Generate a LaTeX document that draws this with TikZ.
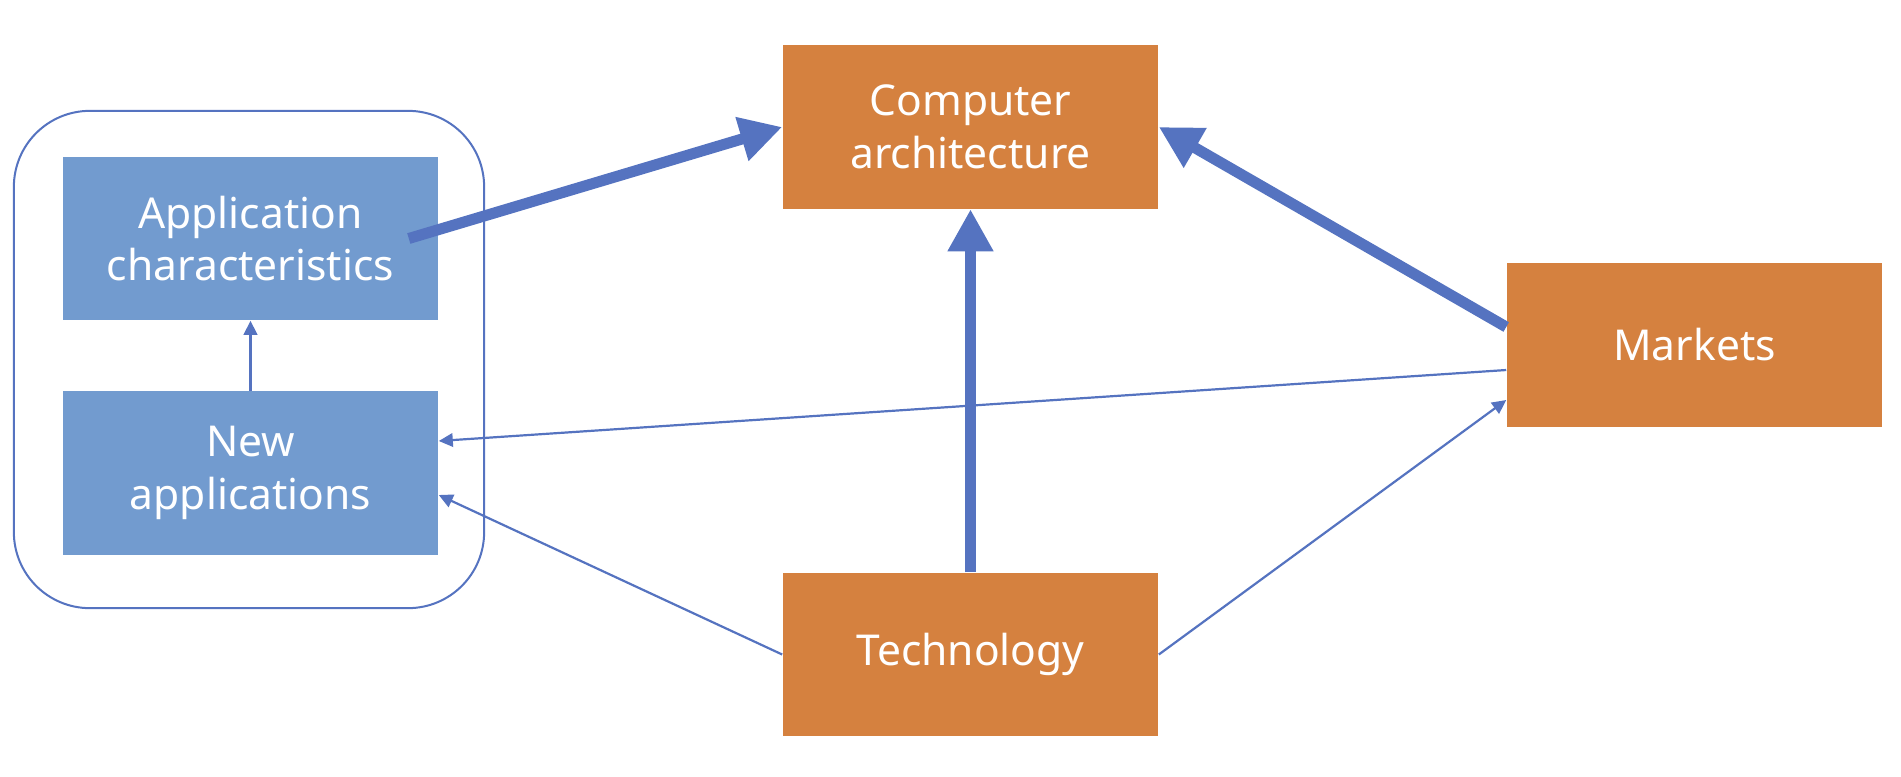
\documentclass[tikz,border=0pt]{standalone}
\usepackage{fontspec}
\setmainfont{Noto Sans}
\usepackage{tikz}
\usepackage{xcolor}
\usetikzlibrary{arrows.meta,positioning,calc}
\definecolor{appblue}{HTML}{729BCF}
\definecolor{mktorange}{HTML}{D5813F}
\definecolor{link}{HTML}{5573C0}
\tikzset{
  appbox/.style={fill=appblue, text=white, align=center, inner sep=2pt,
                 minimum width=3.75cm, minimum height=1.63cm,
                 font=\fontsize{12.1pt}{15pt}\selectfont},
  drvbox/.style={appbox, fill=mktorange},
  groupbox/.style={draw=link, line width=0.2mm, rounded corners=0.76cm,
                   minimum width=4.70cm, minimum height=4.97cm, inner sep=0pt},
  bigarrow/.style={-{Triangle[length=4.2mm,width=4.3mm]}, line width=1.1mm, draw=link},
  thinarrow/.style={-{Triangle[length=1.4mm,width=1.35mm]}, line width=0.22mm, draw=link}
}
\begin{document}
\begin{tikzpicture}[x=0.01cm,y=-0.01cm]
  \useasboundingbox (0,0) rectangle (1901,776);

  % application side
  \node[groupbox] (grp) at (249,359.5) {};
  \node[appbox] (appchar) at (250.5,238.5) {Application\\characteristics};
  \node[appbox] (newapp) at (250.5,473) {New\\applications};

  % drivers
  \node[drvbox] (comparch) at (970.5,127) {Computer\\architecture};
  \node[drvbox] (tech) at (970.5,654.5) {Technology};
  \node[drvbox] (mkt) at (1694.5,345) {Markets};

  % strong influences
  \draw[bigarrow] ([xshift=-0.3cm]appchar.east) -- (comparch.west);
  \draw[bigarrow] (tech.north) -- (comparch.south);
  \draw[bigarrow] ([yshift=0.18cm]mkt.west) -- (comparch.east);

  % weak influences
  \draw[thinarrow] (newapp.north) -- (appchar.south);
  \draw[thinarrow] ([yshift=-0.25cm]mkt.west) -- ([yshift=0.32cm]newapp.east);
  \draw[thinarrow] (tech.west) -- ([yshift=-0.22cm]newapp.east);
  \draw[thinarrow] (tech.east) -- ([yshift=-0.55cm]mkt.west);
\end{tikzpicture}
\end{document}
